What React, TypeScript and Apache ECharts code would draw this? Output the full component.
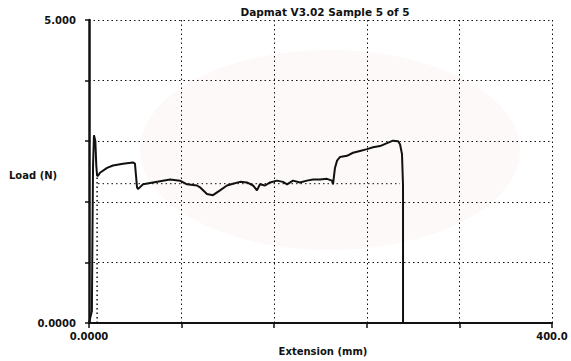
import React, { useEffect, useRef } from "react";
import * as echarts from "echarts";

const titleText = "Dapmat V3.02 Sample 5 of 5";
const xName = "Extension (mm)";
const yName = "Load (N)";

// Extension (mm)
const extension = [
  0, 2.5, 3.0, 3.5, 4.3, 5.5, 6.3, 7.0, 7.8, 9.5, 15.6, 20.7, 29.4, 38.0, 39.7, 41.5, 42.3,
  46.7, 55.3, 63.9, 70.0, 78.6, 84.7, 93.3, 95.9, 101.9, 107.1, 113.2, 119.2, 124.4, 130.5,
  136.5, 141.7, 145.1, 147.7, 152.1, 156.4, 162.4, 167.6, 171.1, 176.2, 182.3, 188.3, 193.5,
  199.6, 205.6, 209.9, 210.8, 212.5, 214.3, 216.8, 222.9, 228.1, 234.1, 240.2, 245.4, 251.4,
  257.5, 262.6, 267.0, 268.7, 270.4, 271.3, 271.3, 271.3,
];
// Load (N)
const load = [
  0, 0.2, 1.5, 2.6, 3.1, 3.0, 2.6, 2.43, 2.43, 2.48, 2.56, 2.6, 2.63, 2.65, 2.63, 2.24, 2.21,
  2.29, 2.32, 2.35, 2.37, 2.35, 2.29, 2.27, 2.24, 2.13, 2.11, 2.19, 2.27, 2.3, 2.33,
  2.32, 2.27, 2.19, 2.29, 2.27, 2.32, 2.35, 2.33, 2.29, 2.35, 2.32, 2.35, 2.37,
  2.37, 2.38, 2.35, 2.29, 2.56, 2.68, 2.74, 2.76, 2.81, 2.84, 2.87, 2.9, 2.92,
  2.97, 3.01, 3.0, 2.95, 2.79, 2.27, 1.53, 0,
];

// dotted helper lines
const dropExt = [7.0, 7.0];
const dropLoad = [0, 2.43];
const meanExt = [7.8, 268.7];
const meanLoad = [2.3, 2.3];

const xTickLabels: Record<number, string> = { 0: "0.0000", 400: "400.0" };
const yTickLabels: Record<number, string> = { 0: "0.0000", 5: "5.000" };

const FONT = "DejaVu Sans";

export default function App() {
  const ref = useRef<HTMLDivElement>(null);
  useEffect(() => {
    if (!ref.current) return;
    const chart = echarts.init(ref.current, null, { renderer: "svg" });
    const zip = (a: number[], b: number[]) => a.map((v, i) => [v, b[i]]);
    const dotted = { color: "#111", width: 1, type: [1.5, 3] as any };
    chart.setOption({
      animation: false,
      backgroundColor: "#ffffff",
      title: {
        text: titleText,
        left: 320,
        textAlign: "center",
        top: 1,
        textStyle: { fontFamily: FONT, fontWeight: "bold", fontSize: 10.5, color: "#111" },
      },
      graphic: [
        {
          type: "ellipse",
          silent: true,
          z: -10,
          shape: { cx: 330, cy: 150, rx: 190, ry: 100 },
          style: { fill: "#fef9f9" },
        },
        {
          type: "text",
          left: 9,
          top: 170,
          style: {
            text: yName,
            fontFamily: FONT,
            fontWeight: "bold",
            fontSize: 10,
            fill: "#111",
          },
        },
      ],
      grid: { left: 89, right: 19, top: 20, bottom: 24, containLabel: false },
      xAxis: {
        type: "value",
        min: 0,
        max: 400,
        interval: 80,
        name: xName,
        nameLocation: "middle",
        nameGap: 8,
        nameTextStyle: { fontFamily: FONT, fontWeight: "bold", fontSize: 10, color: "#111", padding: [0, 0, 0, 5] },
        axisLine: { show: true, lineStyle: { color: "#111", width: 2 } },
        axisTick: { show: true, length: 5, lineStyle: { color: "#111", width: 1.5 } },
        axisLabel: {
          showMinLabel: true,
          showMaxLabel: true,
          margin: 8,
          fontFamily: FONT,
          fontWeight: "bold",
          fontSize: 10,
          color: "#111",
          formatter: (v: number) => xTickLabels[v] ?? "",
        },
        splitLine: { show: true, lineStyle: dotted },
      },
      yAxis: {
        type: "value",
        min: 0,
        max: 5,
        interval: 1,
        axisLine: { show: true, lineStyle: { color: "#111", width: 2.5 } },
        axisTick: { show: true, length: 4, lineStyle: { color: "#111", width: 1.5 } },
        axisLabel: {
          showMinLabel: true,
          showMaxLabel: true,
          margin: 13,
          fontFamily: FONT,
          fontWeight: "bold",
          fontSize: 10,
          color: "#111",
          formatter: (v: number) => yTickLabels[v] ?? "",
        },
        splitLine: { show: true, lineStyle: dotted },
      },
      series: [
        {
          type: "line",
          data: zip(meanExt, meanLoad),
          showSymbol: false,
          lineStyle: dotted,
          z: 2,
        },
        {
          type: "line",
          data: zip(dropExt, dropLoad),
          showSymbol: false,
          lineStyle: { color: "#111", width: 1.5, type: [1.5, 3] as any },
          z: 2,
        },
        {
          type: "line",
          data: zip(extension, load),
          showSymbol: false,
          lineStyle: { color: "#111", width: 2 },
          z: 3,
        },
      ],
    });
    return () => chart.dispose();
  }, []);
  return (
    <div
      ref={ref}
      style={{ position: "fixed", left: 0, top: 0, width: 571, height: 361, background: "#fff" }}
    />
  );
}
